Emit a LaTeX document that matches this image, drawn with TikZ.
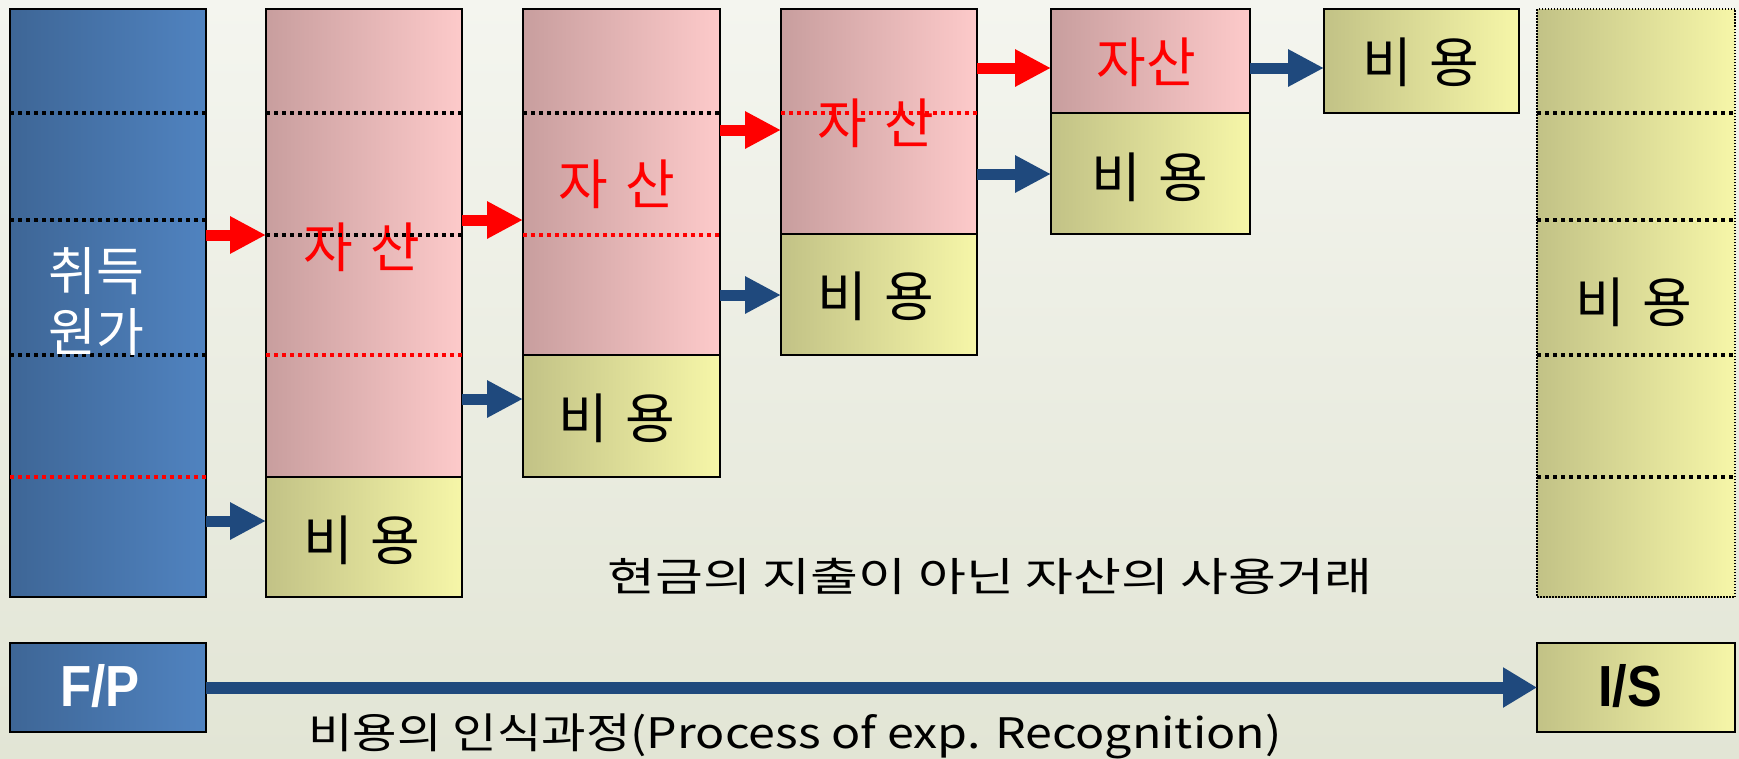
\documentclass[tikz,border=0pt]{standalone}
\usepackage{fontspec}
\usepackage{graphicx}
\setmainfont{Liberation Sans}
\newfontfamily\kr{Noto Sans CJK KR}
\usetikzlibrary{arrows.meta}
\definecolor{bgtop}{RGB}{244,245,239}
\definecolor{bgbot}{RGB}{226,229,213}
\definecolor{blueL}{RGB}{62,102,150}
\definecolor{blueR}{RGB}{80,131,192}
\definecolor{pinkL}{RGB}{200,158,158}
\definecolor{pinkR}{RGB}{253,202,202}
\definecolor{yelL}{RGB}{194,194,134}
\definecolor{yelR}{RGB}{246,246,168}
\definecolor{arrowblue}{RGB}{31,73,125}
\newcommand\mkcell[6]{\node[#6, minimum width={#4-#2}, minimum height={#5-#3}] (#1) at ({(#2+#4)/2},{(#3+#5)/2}) {};}
\newcommand\gap{\hspace{0.32em}}
\begin{document}
\begin{tikzpicture}[x=1pt,y=-1pt,
  cellbase/.style={rectangle, draw=black, line width=2.5pt, inner sep=0pt, outer sep=0pt},
  bluecell/.style={cellbase, left color=blueL, right color=blueR},
  pinkcell/.style={cellbase, left color=pinkL, right color=pinkR},
  yelcell/.style={cellbase, left color=yelL, right color=yelR},
  dotcell/.style={rectangle, draw=black, line width=1.5pt, dash pattern=on 1.5pt off 1.5pt, inner sep=0pt, outer sep=0pt, left color=yelL, right color=yelR},
  sepblack/.style={draw=black, line width=3.5pt, dash pattern=on 4pt off 4pt},
  sepred/.style={draw=red, line width=3.5pt, dash pattern=on 4pt off 4pt},
  redarrow/.style={draw=red, line width=11pt, -{Triangle[length=36pt,width=35pt]}},
  bluearrow/.style={draw=arrowblue, line width=11pt, -{Triangle[length=36pt,width=35pt]}},
  bigarrow/.style={draw=arrowblue, line width=12pt, -{Triangle[length=34pt,width=38pt]}},
  redtxt/.style={text=red, font=\kr\fontsize{54}{58}\selectfont, inner sep=0pt},
  blktxt/.style={text=black, font=\kr\fontsize{54}{58}\selectfont, inner sep=0pt},
  plaintxt/.style={text=black, inner sep=0pt}
]
\useasboundingbox (0,0) rectangle (1739,758);
\shade[top color=bgtop, bottom color=bgbot] (0,0) rectangle (1739,758);

% boxes
\mkcell{b1}{10}{9}{206}{597}{bluecell}
\mkcell{b2a}{266}{9}{462}{477}{pinkcell}
\mkcell{b2b}{266}{477}{462}{597}{yelcell}
\mkcell{b3a}{523}{9}{720}{355}{pinkcell}
\mkcell{b3b}{523}{355}{720}{477}{yelcell}
\mkcell{b4a}{781}{9}{977}{234}{pinkcell}
\mkcell{b4b}{781}{234}{977}{355}{yelcell}
\mkcell{b5a}{1051}{9}{1250}{113}{pinkcell}
\mkcell{b5b}{1051}{113}{1250}{234}{yelcell}
\mkcell{b6}{1324}{9}{1519}{113}{yelcell}
\mkcell{b7}{1537}{9}{1735}{597}{dotcell}
\mkcell{fp}{10}{643}{206}{732}{bluecell}
\mkcell{is}{1537}{643}{1735}{732}{yelcell}

% separators of box 1 (under text)
\draw[sepblack] (b1.west |- 0,113) -- (b1.east |- 0,113);
\draw[sepblack] (b1.west |- 0,220) -- (b1.east |- 0,220);
\draw[sepblack] (b1.west |- 0,355) -- (b1.east |- 0,355);
\draw[sepred]   (b1.west |- 0,477) -- (b1.east |- 0,477);

% labels
\node[text=white, font=\kr\fontsize{52}{61}\selectfont, align=center, inner sep=0pt] (l1) at (96,302) {취득\\원가};
\node[redtxt] (l2a) at (362,247) {자\gap 산};
\node[redtxt] (l3a) at (617,184) {자\gap 산};
\node[redtxt] (l4a) at (876,123) {자\gap 산};
\node[redtxt] (l5a) at (1146,62) {자산};
\node[blktxt] (l2b) at (362,540) {비\gap 용};
\node[blktxt] (l3b) at (617,418) {비\gap 용};
\node[blktxt] (l4b) at (876,296) {비\gap 용};
\node[blktxt] (l5b) at (1150,177) {비\gap 용};
\node[blktxt] (l6) at (1421,62) {비\gap 용};
\node[blktxt] (l7) at (1634,302) {비\gap 용};

% separators over text
\draw[sepblack] (b2a.west |- 0,113) -- (b2a.east |- 0,113);
\draw[sepblack] (b2a.west |- 0,235) -- (b2a.east |- 0,235);
\draw[sepred]   (b2a.west |- 0,355) -- (b2a.east |- 0,355);
\draw[sepblack] (b3a.west |- 0,113) -- (b3a.east |- 0,113);
\draw[sepred]   (b3a.west |- 0,235) -- (b3a.east |- 0,235);
\draw[sepred]   (b4a.west |- 0,113) -- (b4a.east |- 0,113);
\draw[sepblack] (b7.west |- 0,113) -- (b7.east |- 0,113);
\draw[sepblack] (b7.west |- 0,220) -- (b7.east |- 0,220);
\draw[sepblack] (b7.west |- 0,355) -- (b7.east |- 0,355);
\draw[sepblack] (b7.west |- 0,477) -- (b7.east |- 0,477);

% arrows
\draw[redarrow]  (b1.east |- 0,235) -- (b2a.west |- 0,235);
\draw[bluearrow] (b1.east |- 0,521) -- (b2b.west |- 0,521);
\draw[redarrow]  (b2a.east |- 0,220) -- (b3a.west |- 0,220);
\draw[bluearrow] (b2a.east |- 0,399) -- (b3b.west |- 0,399);
\draw[redarrow]  (b3a.east |- 0,130) -- (b4a.west |- 0,130);
\draw[bluearrow] (b3a.east |- 0,295) -- (b4b.west |- 0,295);
\draw[redarrow]  (b4a.east |- 0,68) -- (b5a.west |- 0,68);
\draw[bluearrow] (b4a.east |- 0,174) -- (b5b.west |- 0,174);
\draw[bluearrow] (b5a.east |- 0,68) -- (b6.west |- 0,68);
\draw[bigarrow]  (fp.east) -- (is.west);

% bottom labels
\node[text=white, font=\bfseries\fontsize{58}{60}\selectfont, inner sep=0pt] (fpl) at (100,686) {\scalebox{0.88}[1]{F/P}};
\node[text=black, font=\bfseries\fontsize{58}{60}\selectfont, inner sep=0pt] (isl) at (1630,686) {\scalebox{0.9}[1]{I/S}};
\node[plaintxt, font=\kr\fontsize{40}{44}\selectfont] (mid) at (990,576) {\resizebox{765pt}{\height}{현금의 지출이 아닌 자산의 사용거래}};
\node[plaintxt, font=\kr\fontsize{42}{46}\selectfont] (rec) at (795,736) {\resizebox{973pt}{\height}{비용의 인식과정(Process of exp. Recognition)}};
\end{tikzpicture}
\end{document}
